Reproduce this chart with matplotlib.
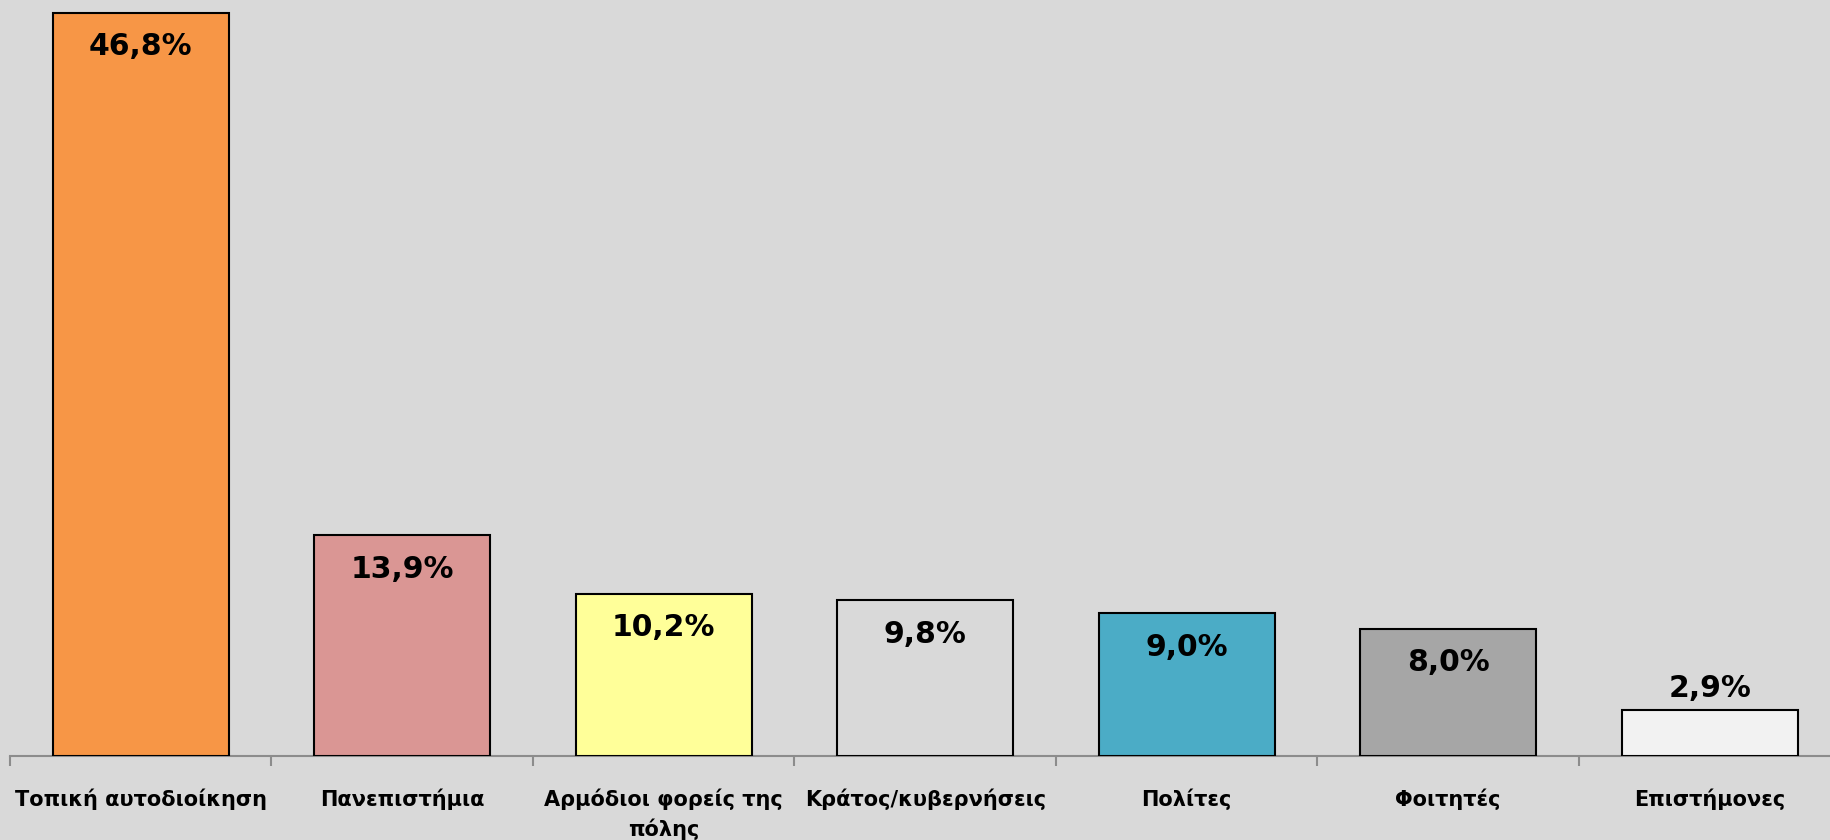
import matplotlib
matplotlib.use("Agg")
import matplotlib.pyplot as plt

categories = ["Τοπική αυτοδιοίκηση", "Πανεπιστήμια", "Αρμόδιοι φορείς της\nπόλης",
              "Κράτος/κυβερνήσεις", "Πολίτες", "Φοιτητές", "Επιστήμονες"]
values = [46.8, 13.9, 10.2, 9.8, 9.0, 8.0, 2.9]
labels = ["46,8%", "13,9%", "10,2%", "9,8%", "9,0%", "8,0%", "2,9%"]
colors = ["#F79646", "#DA9694", "#FFFF99", "#D9D9D9", "#4BACC6", "#A6A6A6", "#F2F2F2"]

plt.rcParams['font.family'] = ['DejaVu Sans']
bg = "#D9D9D9"
W, H = 1831, 840
fig = plt.figure(figsize=(W/100, H/100), dpi=100, facecolor=bg)
left = 10 / W
right_px = 10 + 7 * 261.5
ax = fig.add_axes([left, 84 / H, (right_px - 10) / W, 1 - 84 / H])
ax.set_facecolor(bg)

x = list(range(len(values)))
bars = ax.bar(x, values, width=0.6715, color=colors, edgecolor="black", linewidth=1.5, zorder=3)
ax.set_xlim(-0.5, len(values) - 0.5)
ax.set_ylim(0, 47.6)

px_per_unit = (H - 84) / 47.6
for xi, v, lab in zip(x, values, labels):
    if v > 5:
        y = v - 34 / px_per_unit
    else:
        y = v + 21 / px_per_unit
    ax.text(xi, y, lab, ha="center", va="center", fontsize=21.5, fontweight="bold", color="black", zorder=4)

for s in ["top", "right", "left"]:
    ax.spines[s].set_visible(False)
ax.spines["bottom"].set_color("#8C8C8C")
ax.spines["bottom"].set_linewidth(1.5)
ax.set_yticks([])
ax.set_xticks(x)
ax.set_xticklabels([])
ax.tick_params(axis="x", which="major", length=0)
ax.set_xticks([i - 0.5 for i in range(len(values) + 1)], minor=True)
ax.tick_params(axis="x", which="minor", length=7, width=1.5, color="#8C8C8C", direction="out")

for xi, c in zip(x, categories):
    if "\n" in c:
        ax.text(xi, -33 / px_per_unit, c, ha="center", va="top", fontsize=15, fontweight="bold",
                linespacing=1.45, color="black", clip_on=False)
    else:
        ax.text(xi, -43 / px_per_unit, c, ha="center", va="center", fontsize=15, fontweight="bold",
                color="black", clip_on=False)

fig.savefig("out.png", dpi=100, facecolor=bg)
